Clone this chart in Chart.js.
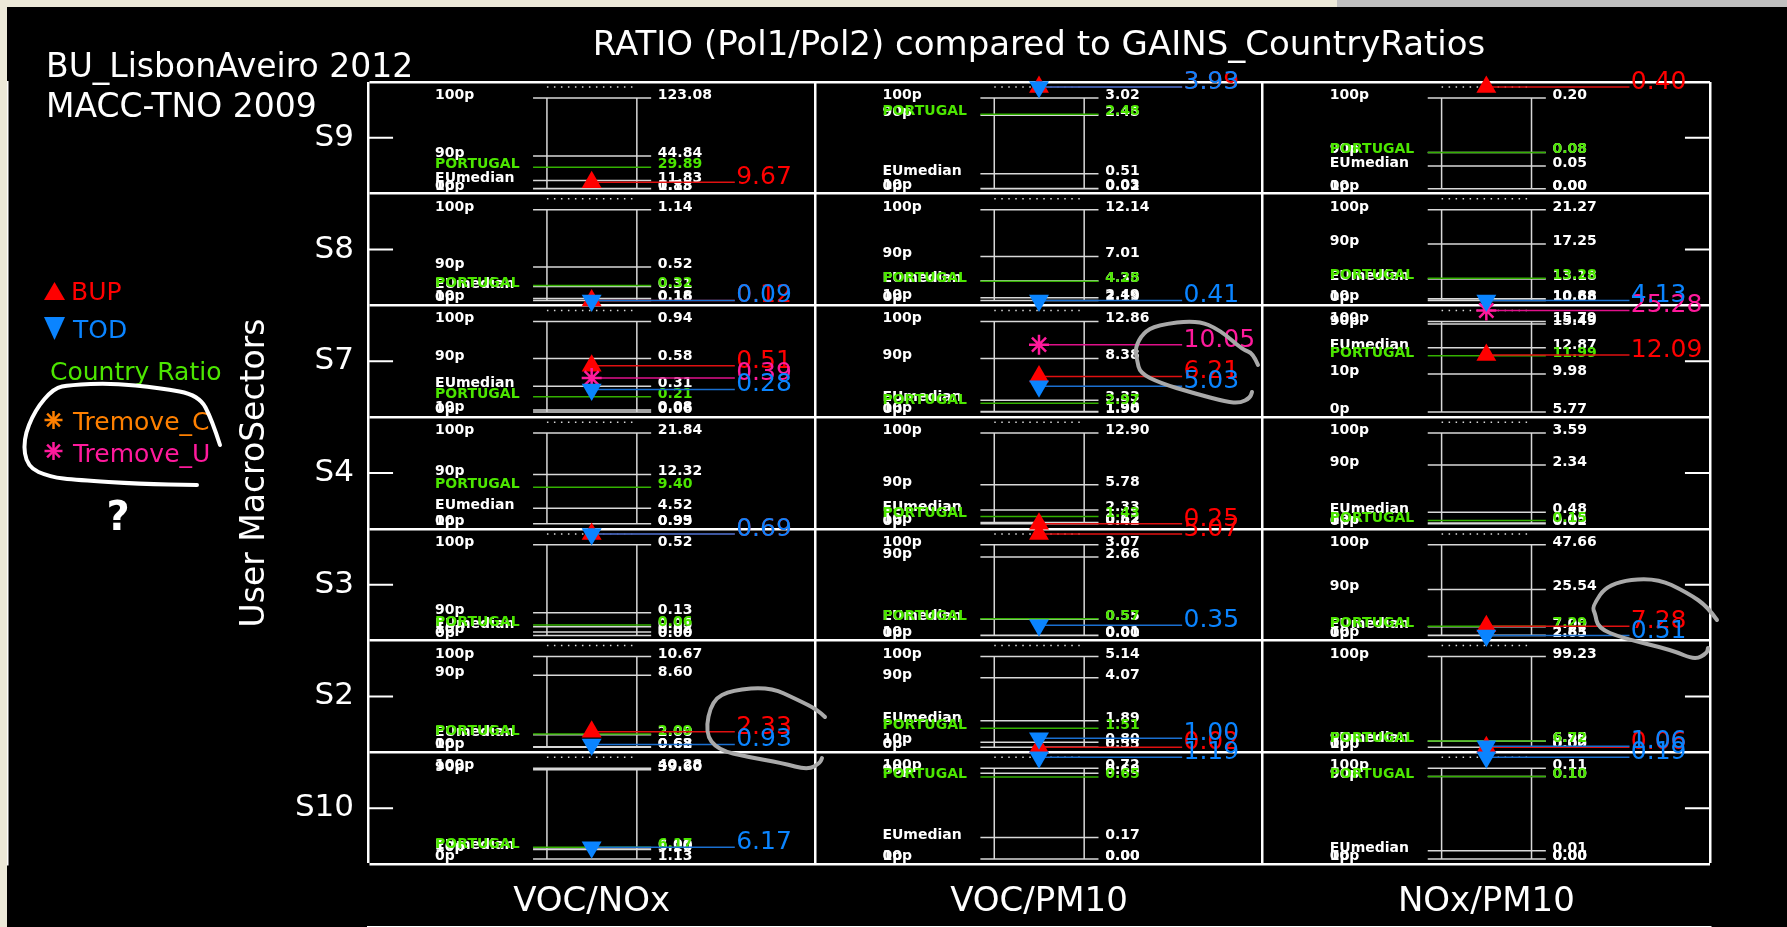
<!DOCTYPE html>
<html lang="en">
<head>
<meta charset="UTF-8">
<title>RATIO (Pol1/Pol2) compared to GAINS_CountryRatios</title>
<script src="https://cdn.jsdelivr.net/npm/chart.js"></script>
<style>
    * { margin: 0; padding: 0; box-sizing: border-box; }
    html, body { width: 1787px; height: 927px; background: #ece9d8; overflow: hidden; }
    body { position: relative; }
    .winbar { position: absolute; left: 1337px; top: 0; width: 450px; height: 7px; background: #c0c0c0; }
    .plot { position: absolute; left: 7px; top: 7px; width: 1780px; height: 920px; background: #000; }
    .plot canvas { display: block; }
</style>
</head>
<body>
<div class="winbar"></div>
<div class="plot"><canvas id="ratioChart" width="1780" height="920"></canvas></div>
<script>
const sectors = ['S9', 'S8', 'S7', 'S4', 'S3', 'S2', 'S10'];
const ratios = ['VOC/NOx', 'VOC/PM10', 'NOx/PM10'];

// EU distribution of the ratio: one row per sector, one column per ratio
const p100 = [
    [123.08, 3.02, 0.20],
    [1.14, 12.14, 21.27],
    [0.94, 12.86, 15.79],
    [21.84, 12.90, 3.59],
    [0.52, 3.07, 47.66],
    [10.67, 5.14, 99.23],
    [40.28, 0.72, 0.11]
];
const p90 = [
    [44.84, 2.45, 0.08],
    [0.52, 7.01, 17.25],
    [0.58, 8.38, 15.49],
    [12.32, 5.78, 2.34],
    [0.13, 2.66, 25.54],
    [8.60, 4.07, 6.95],
    [39.60, 0.68, 0.10]
];
const euMedian = [
    [11.83, 0.51, 0.05],
    [0.31, 4.35, 13.18],
    [0.31, 3.33, 12.87],
    [4.52, 2.33, 0.48],
    [0.05, 0.55, 7.00],
    [2.00, 1.89, 6.50],
    [6.00, 0.17, 0.01]
];
const p10 = [
    [1.13, 0.03, 0.00],
    [0.18, 2.49, 10.88],
    [0.08, 1.98, 9.98],
    [0.99, 0.62, 0.05],
    [0.02, 0.01, 2.83],
    [0.68, 0.80, 0.02],
    [5.20, 0.00, 0.00]
];
const p0 = [
    [0.88, 0.02, 0.00],
    [0.16, 2.19, 10.68],
    [0.06, 1.90, 5.77],
    [0.95, 0.42, 0.02],
    [0.00, 0.00, 2.65],
    [0.62, 0.55, 0.00],
    [1.13, 0.00, 0.00]
];
const portugal = [
    [29.89, 2.48, 0.08],
    [0.32, 4.28, 13.28],
    [0.21, 2.97, 11.99],
    [9.40, 1.43, 0.15],
    [0.06, 0.57, 7.29],
    [2.09, 1.51, 6.72],
    [6.17, 0.65, 0.10]
];

// user inventories
const bup = [
    [9.67, 3.99, 0.40],
    [0.12, null, null],
    [0.51, 6.21, 12.09],
    [null, 0.25, null],
    [0.69, 5.07, 7.28],
    [2.33, 0.02, 0.06],
    [null, null, null]
];
const tod = [
    [null, 3.93, null],
    [0.09, 0.41, 4.13],
    [0.28, 5.03, null],
    [null, null, null],
    [0.69, 0.35, 0.51],
    [0.93, 1.00, 1.06],
    [6.17, 1.19, 0.19]
];
const tremoveC = [
    [null, null, null],
    [null, null, null],
    [null, null, null],
    [null, null, null],
    [null, null, null],
    [null, null, null],
    [null, null, null]
];
const tremoveU = [
    [null, null, null],
    [null, null, null],
    [0.39, 10.05, 25.28],
    [null, null, null],
    [null, null, null],
    [null, null, null],
    [null, null, null]
];

// layout inside one cell (fractions of a cell)
const LOW = 0.045, HIGH = 0.857, DOTS = 0.955;
const X_LABEL = 0.15, X_LINE0 = 0.369, X_BOX0 = 0.40, X_MID = 0.5, X_BOX1 = 0.601, X_LINE1 = 0.633;
const X_VALUE = 0.648, X_MARK1 = 0.82, X_MARKTXT = 0.823, TICK = 0.056;

const statSeries = [
    { name: '100p', values: p100 },
    { name: '90p', values: p90 },
    { name: 'EUmedian', values: euMedian },
    { name: '10p', values: p10 },
    { name: '0p', values: p0 }
];
const markerSeries = [
    { name: 'BUP', values: bup, color: '#ff0000', line: '#e01010', style: 'triangle', rot: 0, r: 11.5 },
    { name: 'Tremove_C', values: tremoveC, color: '#ff8000', line: '#ff8000', style: 'star', rot: 0, r: 10 },
    { name: 'Tremove_U', values: tremoveU, color: '#ff1a9c', line: '#e0108a', style: 'star', rot: 0, r: 10 },
    { name: 'TOD', values: tod, color: '#0a84ff', line: '#1a6fd0', style: 'triangle', rot: 180, r: 11.5 }
];

function eachCell(fn) {
    sectors.forEach((s, ri) => ratios.forEach((r, ci) => fn(ri, ci)));
}

// value -> y position inside the sector row, clipped like the original plot
function levelOf(ri, ci, v) {
    const base = sectors.length - 1 - ri;
    const lo = p0[ri][ci], hi = p100[ri][ci];
    if (v > hi) return base + DOTS;
    const f = Math.max(0, (v - lo) / (hi - lo));
    return base + LOW + f * (HIGH - LOW);
}

function segs(list) {
    const out = [];
    list.forEach(([x1, y1, x2, y2]) => out.push({ x: x1, y: y1 }, { x: x2, y: y2 }, { x: null, y: null }));
    return out;
}

function lineSet(data, color, width, dash) {
    return { data, showLine: true, borderColor: color, borderWidth: width, borderDash: dash || [],
        pointRadius: 0, clip: false };
}

const statSegs = [], portSegs = [], boxSegs = [], dotSegs = [], tickSegs = [];
eachCell((ri, ci) => {
    statSeries.forEach(st => {
        const ly = levelOf(ri, ci, st.values[ri][ci]);
        statSegs.push([ci + X_LINE0, ly, ci + X_LINE1, ly]);
    });
    const py = levelOf(ri, ci, portugal[ri][ci]);
    portSegs.push([ci + X_LINE0, py, ci + X_LINE1, py]);
    const yTop = levelOf(ri, ci, p100[ri][ci]), yBot = levelOf(ri, ci, p0[ri][ci]);
    boxSegs.push([ci + X_BOX0, yBot, ci + X_BOX0, yTop], [ci + X_BOX1, yBot, ci + X_BOX1, yTop]);
    const base = sectors.length - 1 - ri;
    dotSegs.push([ci + X_BOX0, base + DOTS, ci + X_BOX1, base + DOTS]);
});
sectors.forEach((s, ri) => {
    const mid = sectors.length - 1 - ri + 0.5;
    tickSegs.push([0, mid, TICK, mid], [ratios.length - TICK, mid, ratios.length, mid]);
});

const markDatasets = [], markLineDatasets = [];
markerSeries.slice().reverse().forEach(m => {
    const pts = [], ls = [];
    eachCell((ri, ci) => {
        const v = m.values[ri][ci];
        if (v === null) return;
        const ly = levelOf(ri, ci, v);
        pts.push({ x: ci + X_MID, y: ly });
        ls.push([ci + X_MID, ly, ci + X_MARK1, ly]);
    });
    markDatasets.push({
        data: pts, pointStyle: m.style, pointRotation: m.rot, pointRadius: m.r,
        pointBackgroundColor: m.color, pointBorderColor: m.color,
        pointBorderWidth: m.style === 'star' ? 2.5 : 0, clip: false
    });
    markLineDatasets.push(lineSet(segs(ls), m.line, 1.5));
});

const datasets = [
    ...markDatasets,
    ...markLineDatasets,
    lineSet(segs(portSegs), '#33b000', 1.5),
    lineSet(segs(statSegs), '#d8d8d8', 1.5),
    lineSet(segs(boxSegs), '#d8d8d8', 1.5),
    lineSet(segs(dotSegs), '#d8d8d8', 1.5, [1.5, 5.5]),
    lineSet(segs(tickSegs), '#ffffff', 2)
];

// hand-drawn notes on the original screenshot (page pixels)
const notes = [
    { color: '#ffffff', pts: [[220,445],[212,420],[199,395],[160,388],[111,383],[70,385],[54,388],[35,410],[23,440],[27,467],[50,477],[77,480],[140,484],[197,485]] },
    { color: '#a9a9a9', pts: [[825,717],[818,710],[798,700],[770,687],[732,690],[712,700],[705,733],[718,750],[748,757],[782,763],[808,770],[820,763],[822,758]] },
    { color: '#a9a9a9', pts: [[1258,365],[1253,353],[1243,350],[1220,330],[1197,320],[1157,325],[1143,333],[1135,348],[1137,360],[1140,373],[1160,383],[1193,393],[1227,402],[1240,403],[1250,398],[1252,392]] },
    { color: '#a9a9a9', pts: [[1717,620],[1708,607],[1688,593],[1655,577],[1608,583],[1592,607],[1595,613],[1598,628],[1622,638],[1672,650],[1695,660],[1707,653],[1708,648]] }
];

function tri(ctx, cx, cy, w, h, down) {
    ctx.beginPath();
    if (down) {
        ctx.moveTo(cx - w / 2, cy - h / 2); ctx.lineTo(cx + w / 2, cy - h / 2); ctx.lineTo(cx, cy + h / 2);
    } else {
        ctx.moveTo(cx - w / 2, cy + h / 2); ctx.lineTo(cx + w / 2, cy + h / 2); ctx.lineTo(cx, cy - h / 2);
    }
    ctx.closePath();
    ctx.fill();
}

function star(ctx, cx, cy, r) {
    for (let k = 0; k < 4; k++) {
        const a = k * Math.PI / 4;
        ctx.beginPath();
        ctx.moveTo(cx - r * Math.cos(a), cy - r * Math.sin(a));
        ctx.lineTo(cx + r * Math.cos(a), cy + r * Math.sin(a));
        ctx.stroke();
    }
}

function smooth(ctx, pts) {
    ctx.beginPath();
    ctx.moveTo(pts[0][0], pts[0][1]);
    for (let i = 1; i < pts.length - 1; i++) {
        ctx.quadraticCurveTo(pts[i][0], pts[i][1], (pts[i][0] + pts[i + 1][0]) / 2, (pts[i][1] + pts[i + 1][1]) / 2);
    }
    ctx.lineTo(pts[pts.length - 1][0], pts[pts.length - 1][1]);
    ctx.stroke();
}

const cellText = {
    id: 'cellText',
    beforeDatasetsDraw(chart) {
        const { ctx, scales: { x, y } } = chart;
        ctx.save();
        ctx.font = 'bold 14px "DejaVu Sans"';
        ctx.textAlign = 'left';
        ctx.textBaseline = 'alphabetic';
        ctx.fillStyle = '#ffffff';
        eachCell((ri, ci) => {
            statSeries.forEach(st => {
                const v = st.values[ri][ci];
                const py = y.getPixelForValue(levelOf(ri, ci, v)) + 1;
                ctx.fillText(st.name, x.getPixelForValue(ci + X_LABEL), py);
                ctx.fillText(v.toFixed(2), x.getPixelForValue(ci + X_VALUE), py);
            });
        });
        ctx.fillStyle = '#4ce600';
        eachCell((ri, ci) => {
            const v = portugal[ri][ci];
            const py = y.getPixelForValue(levelOf(ri, ci, v)) + 1;
            ctx.fillText('PORTUGAL', x.getPixelForValue(ci + X_LABEL), py);
            ctx.fillText(v.toFixed(2), x.getPixelForValue(ci + X_VALUE), py);
        });
        ctx.restore();
    },
    afterDatasetsDraw(chart) {
        const { ctx, scales: { x, y } } = chart;
        ctx.save();
        ctx.font = '25px "DejaVu Sans"';
        ctx.textAlign = 'left';
        ctx.textBaseline = 'alphabetic';
        markerSeries.forEach(m => {
            ctx.fillStyle = m.color;
            eachCell((ri, ci) => {
                const v = m.values[ri][ci];
                if (v === null) return;
                const py = y.getPixelForValue(levelOf(ri, ci, v)) + 2;
                ctx.fillText(v.toFixed(2), x.getPixelForValue(ci + X_MARKTXT), py);
            });
        });
        ctx.restore();
    },
    afterDraw(chart) {
        const ctx = chart.ctx;
        ctx.save();
        ctx.textAlign = 'left';
        ctx.textBaseline = 'alphabetic';
        ctx.fillStyle = '#ffffff';
        ctx.font = '33px "DejaVu Sans"';
        ctx.fillText('BU_LisbonAveiro 2012', 39, 70);
        ctx.fillText('MACC-TNO 2009', 39, 110);

        // legend
        ctx.font = '25px "DejaVu Sans"';
        ctx.fillStyle = '#ff0000';
        tri(ctx, 47.5, 284, 21, 18, false);
        ctx.fillText('BUP', 64, 293);
        ctx.fillStyle = '#0a84ff';
        tri(ctx, 47.5, 321.5, 21, 23, true);
        ctx.fillText('TOD', 66, 331);
        ctx.fillStyle = '#4ce600';
        ctx.fillText('Country Ratio', 43, 373);
        ctx.lineWidth = 2.5;
        ctx.fillStyle = ctx.strokeStyle = '#ff8000';
        star(ctx, 46.5, 413, 9);
        ctx.fillText('Tremove_C', 66, 423);
        ctx.fillStyle = ctx.strokeStyle = '#ff1a9c';
        star(ctx, 46.5, 444, 9);
        ctx.fillText('Tremove_U', 66, 455);

        // pen notes
        ctx.lineWidth = 4;
        ctx.lineCap = 'round';
        ctx.lineJoin = 'round';
        notes.forEach(n => {
            ctx.strokeStyle = n.color;
            smooth(ctx, n.pts.map(p => [p[0] - 7, p[1] - 7]));
        });
        ctx.fillStyle = '#ffffff';
        ctx.font = 'bold 40px "DejaVu Sans"';
        ctx.textAlign = 'center';
        ctx.textBaseline = 'middle';
        ctx.fillText('?', 111, 513);
        ctx.restore();
    }
};

Chart.defaults.font.family = '"DejaVu Sans", sans-serif';
Chart.defaults.color = '#ffffff';

new Chart(document.getElementById('ratioChart'), {
    type: 'scatter',
    data: { datasets },
    options: {
        responsive: false,
        animation: false,
        events: [],
        layout: { padding: { left: 0, right: 77, top: 0, bottom: 0 }, autoPadding: false },
        plugins: { legend: { display: false }, tooltip: { enabled: false } },
        scales: {
            x: {
                type: 'linear', position: 'bottom', min: 0, max: 3,
                afterBuildTicks: s => { s.ticks = ratios.map((r, i) => ({ value: i + 0.5 })); },
                afterFit: s => { s.height = 63; },
                grid: { display: false, drawTicks: false },
                border: { display: false },
                ticks: { color: '#fff', font: { size: 34 }, padding: 18, autoSkip: false, maxRotation: 0,
                    callback: v => ratios[Math.floor(v)] }
            },
            xg: {
                type: 'linear', position: 'bottom', min: 0, max: 3,
                afterFit: s => { s.height = 0; },
                ticks: { display: false, stepSize: 1 },
                grid: { color: '#ffffff', lineWidth: 2.5, drawTicks: false },
                border: { color: '#ffffff', width: 2.5 }
            },
            xt: {
                type: 'linear', position: 'top', min: 0, max: 3,
                afterFit: s => { s.height = 75; },
                ticks: { display: false },
                grid: { display: false, drawTicks: false },
                border: { display: false },
                title: { display: true, text: 'RATIO (Pol1/Pol2) compared to GAINS_CountryRatios', color: '#fff',
                    font: { size: 34 }, padding: { top: 19, bottom: 0 } }
            },
            y: {
                type: 'linear', position: 'left', min: 0, max: 7,
                afterBuildTicks: s => { s.ticks = sectors.map((n, i) => ({ value: i + 0.5 })); },
                afterFit: s => { s.width = 361; },
                grid: { display: false, drawTicks: false },
                border: { display: false },
                ticks: { color: '#fff', font: { size: 31 }, padding: 14, autoSkip: false,
                    callback: v => sectors[sectors.length - 1 - Math.floor(v)] },
                title: { display: true, text: 'User MacroSectors', color: '#fff', font: { size: 33 },
                    padding: { top: 229, bottom: 0 } }
            },
            yg: {
                type: 'linear', position: 'left', min: 0, max: 7,
                afterFit: s => { s.width = 0; },
                ticks: { display: false, stepSize: 1 },
                grid: { color: '#ffffff', lineWidth: 2.5, drawTicks: false },
                border: { color: '#ffffff', width: 2.5 }
            }
        }
    },
    plugins: [cellText]
});
</script>
</body>
</html>
